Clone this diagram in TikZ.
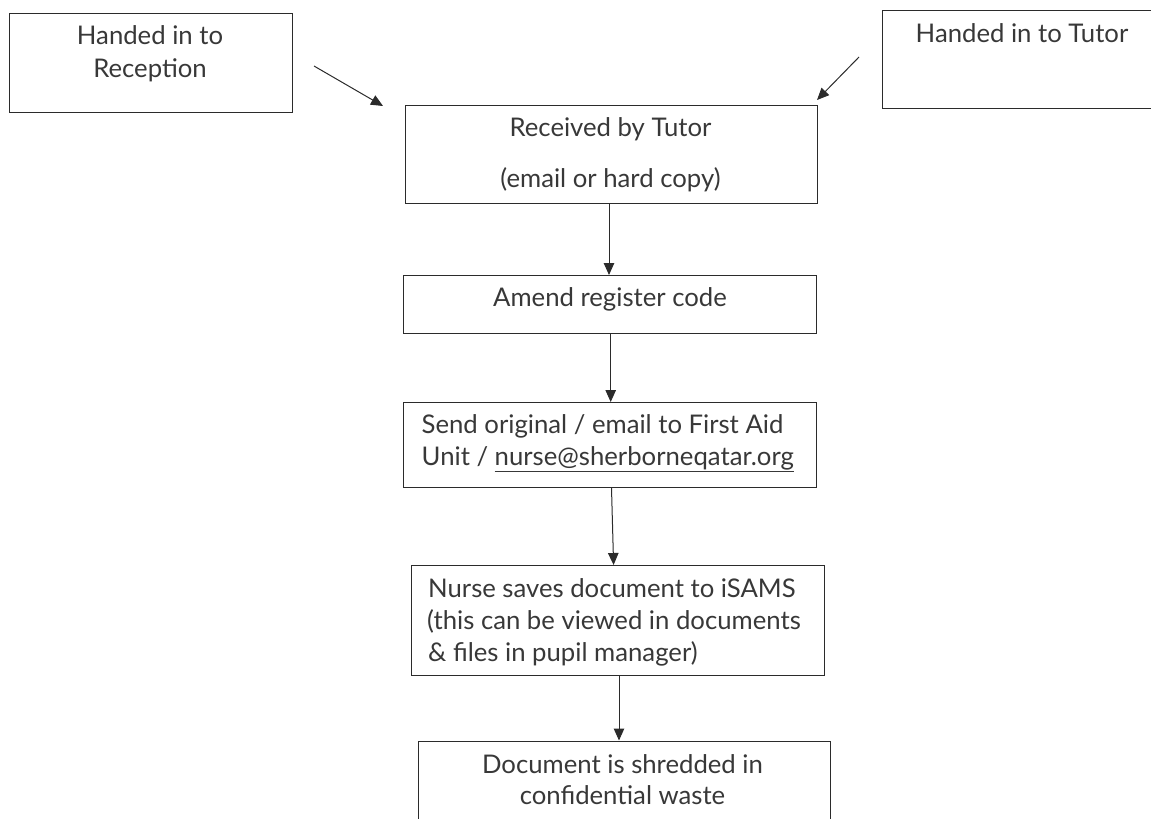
\documentclass[tikz,border=0pt]{standalone}
\usepackage{fontspec}
\setmainfont{Lato}
\usetikzlibrary{arrows.meta,calc}
\definecolor{ink}{HTML}{2B2B2B}
\definecolor{tink}{HTML}{383838}
\tikzset{
  box/.style={draw=ink, line width=1.1pt, anchor=north west, inner sep=0pt},
  txt/.style={text=tink, font=\fontsize{25.7}{33}\selectfont, inner sep=0pt, anchor=base},
  ltxt/.style={txt, anchor=base west},
  arr/.style={draw=ink, line width=1pt, -{Triangle[length=12pt,width=10.5pt]}}
}
\begin{document}
\begin{tikzpicture}[x=1pt,y=-1pt]
\useasboundingbox (0,0) rectangle (1151,819);
% boxes
\node[box, minimum width=282.5pt, minimum height=99pt] (rec) at (9,13) {};
\node[box, minimum width=300pt, minimum height=98pt] (tut) at (882,10) {};
\node[box, minimum width=412.5pt, minimum height=98pt] (recv) at (404.5,104.5) {};
\node[box, minimum width=412.5pt, minimum height=58pt] (amend) at (403,275) {};
\node[box, minimum width=412.5pt, minimum height=85pt] (send) at (403,402) {};
\node[box, minimum width=412.5pt, minimum height=110pt] (nurse) at (411,565) {};
\node[box, minimum width=412.5pt, minimum height=110pt] (shred) at (417.5,740.5) {};
% texts
\node[txt] (t1) at (150,44) {Handed in to};
\node[txt] (t2) at (150,77) {Reception};
\node[txt] (t3) at (1022,42) {Handed in to Tutor};
\node[txt] (t4) at (610.5,136) {Received by Tutor};
\node[txt] (t5) at (610.5,187) {(email or hard copy)};
\node[txt] (t6) at (610,306.5) {Amend register code};
\node[ltxt] (t7) at (421.5,433) {Send original / email to First Aid};
\node[ltxt] (t8) at (421.5,465) {Unit / \underline{nurse@sherborneqatar.org}};
\node[ltxt] (t9) at (428,597) {Nurse saves document to iSAMS};
\node[ltxt] (t10) at (427,629) {(this can be viewed in documents};
\node[ltxt] (t11) at (428,661) {\& files in pupil manager)};
\node[txt] (t12) at (622.5,773) {Document is shredded in};
\node[txt] (t13) at (622.5,804) {confidential waste};
% free ends
\coordinate (s1) at (314,66);
\coordinate (e1) at (383,106);
\coordinate (s2) at (859,57);
\coordinate (e2) at (817,100);
% connectors
\draw[arr] (s1) -- (e1);
\draw[arr] (s2) -- (e2);
\draw[arr] (recv.south -| 609,0) -- (amend.north -| 609,0);
\draw[arr] (amend.south -| 610.7,0) -- (send.north -| 610.7,0);
\draw[arr] (send.south -| 611.5,0) -- (nurse.north -| 613.6,0);
\draw[arr] (nurse.south -| 619,0) -- (shred.north -| 619,0);
\end{tikzpicture}
\end{document}
